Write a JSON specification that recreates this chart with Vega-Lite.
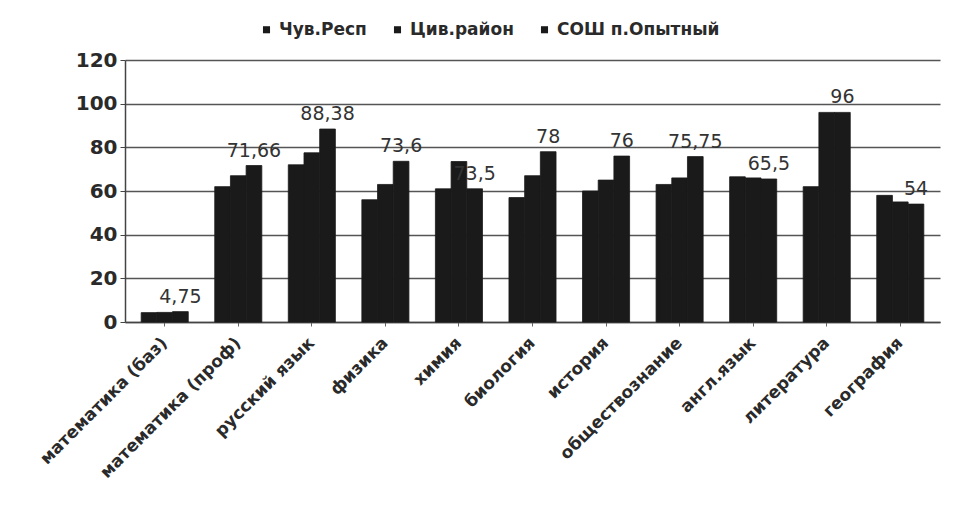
{
  "$schema": "https://vega.github.io/schema/vega-lite/v6.json",
  "autosize": "none",
  "width": 815,
  "height": 262,
  "padding": {"left": 125, "top": 60, "right": 19, "bottom": 203},
  "background": "white",
  "config": {
    "font": "DejaVu Sans",
    "view": {"stroke": null}
  },
  "data": {
    "values": [
      {"subject": "математика (баз)", "series": "Чув.Респ", "value": 4.3},
      {"subject": "математика (баз)", "series": "Цив.район", "value": 4.4},
      {"subject": "математика (баз)", "series": "СОШ п.Опытный", "value": 4.75, "label": "4,75"},
      {"subject": "математика (проф)", "series": "Чув.Респ", "value": 62},
      {"subject": "математика (проф)", "series": "Цив.район", "value": 67},
      {"subject": "математика (проф)", "series": "СОШ п.Опытный", "value": 71.66, "label": "71,66"},
      {"subject": "русский язык", "series": "Чув.Респ", "value": 72},
      {"subject": "русский язык", "series": "Цив.район", "value": 77.5},
      {"subject": "русский язык", "series": "СОШ п.Опытный", "value": 88.38, "label": "88,38"},
      {"subject": "физика", "series": "Чув.Респ", "value": 56},
      {"subject": "физика", "series": "Цив.район", "value": 63},
      {"subject": "физика", "series": "СОШ п.Опытный", "value": 73.6, "label": "73,6"},
      {"subject": "химия", "series": "Чув.Респ", "value": 61},
      {"subject": "химия", "series": "Цив.район", "value": 73.5},
      {"subject": "химия", "series": "СОШ п.Опытный", "value": 61, "label": "73,5"},
      {"subject": "биология", "series": "Чув.Респ", "value": 57},
      {"subject": "биология", "series": "Цив.район", "value": 67},
      {"subject": "биология", "series": "СОШ п.Опытный", "value": 78, "label": "78"},
      {"subject": "история", "series": "Чув.Респ", "value": 60},
      {"subject": "история", "series": "Цив.район", "value": 65},
      {"subject": "история", "series": "СОШ п.Опытный", "value": 76, "label": "76"},
      {"subject": "обществознание", "series": "Чув.Респ", "value": 63},
      {"subject": "обществознание", "series": "Цив.район", "value": 66},
      {"subject": "обществознание", "series": "СОШ п.Опытный", "value": 75.75, "label": "75,75"},
      {"subject": "англ.язык", "series": "Чув.Респ", "value": 66.5},
      {"subject": "англ.язык", "series": "Цив.район", "value": 66},
      {"subject": "англ.язык", "series": "СОШ п.Опытный", "value": 65.5, "label": "65,5"},
      {"subject": "литература", "series": "Чув.Респ", "value": 62},
      {"subject": "литература", "series": "Цив.район", "value": 96},
      {"subject": "литература", "series": "СОШ п.Опытный", "value": 96, "label": "96"},
      {"subject": "география", "series": "Чув.Респ", "value": 58},
      {"subject": "география", "series": "Цив.район", "value": 55},
      {"subject": "география", "series": "СОШ п.Опытный", "value": 54, "label": "54"}
    ]
  },
  "encoding": {
    "x": {
      "field": "subject",
      "type": "nominal",
      "sort": null,
      "scale": {"paddingInner": 0.36, "paddingOuter": 0.22},
      "axis": {
        "title": null,
        "labelAngle": -45,
        "labelAlign": "right",
        "labelBaseline": "middle",
        "labelFontSize": 17,
        "labelFontWeight": "bold",
        "labelColor": "#2a2a2a",
        "labelPadding": 14,
        "labelLimit": 300,
        "ticks": true,
        "tickSize": 4,
        "tickColor": "#666",
        "domainColor": "#444",
        "domainWidth": 1.5,
        "grid": false
      }
    },
    "xOffset": {
      "field": "series",
      "type": "nominal",
      "sort": ["Чув.Респ", "Цив.район", "СОШ п.Опытный"],
      "scale": {"paddingInner": 0, "paddingOuter": 0}
    },
    "y": {
      "field": "value",
      "type": "quantitative",
      "scale": {"domain": [0, 120], "nice": false},
      "axis": {
        "title": null,
        "values": [0, 20, 40, 60, 80, 100, 120],
        "labelFontSize": 20,
        "labelFontWeight": "bold",
        "labelColor": "#2a2a2a",
        "labelPadding": 3,
        "tickSize": 5,
        "tickColor": "#444",
        "domainColor": "#444",
        "domainWidth": 1.5,
        "gridColor": "#555",
        "gridWidth": 1.5
      }
    }
  },
  "layer": [
    {
      "mark": {"type": "bar", "color": "#1a1a1a", "stroke": "#1a1a1a", "strokeWidth": 0.8},
      "encoding": {
        "color": {
          "field": "series",
          "type": "nominal",
          "sort": ["Чув.Респ", "Цив.район", "СОШ п.Опытный"],
          "scale": {"range": ["#1a1a1a", "#1a1a1a", "#1a1a1a"]},
          "legend": {
            "title": null,
            "orient": "none",
            "direction": "horizontal",
            "legendX": 133,
            "legendY": -39,
            "symbolType": "square",
            "symbolSize": 50,
            "symbolStrokeWidth": 0,
            "labelFontSize": 17,
            "labelFontWeight": "bold",
            "labelColor": "#2a2a2a",
            "labelLimit": 400,
            "columnPadding": 22,
            "labelOffset": 4
          }
        }
      }
    },
    {
      "transform": [{"filter": "datum.label != null"}],
      "mark": {"type": "text", "baseline": "bottom", "dy": -5, "fontSize": 19, "color": "#333"},
      "encoding": {
        "text": {"field": "label", "type": "nominal"}
      }
    }
  ]
}
